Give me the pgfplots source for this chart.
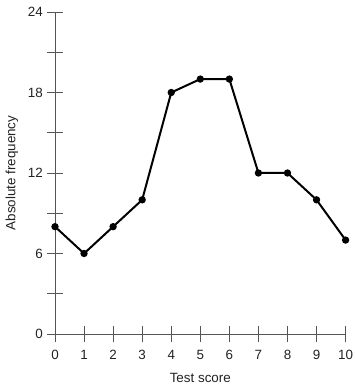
\documentclass[border=0pt]{standalone}
\usepackage{pgfplots}
\pgfplotsset{compat=1.18}
\usepackage{fontspec}
\setmainfont{Liberation Sans}
\definecolor{axgray}{HTML}{555555}
\definecolor{txt}{HTML}{222222}
\begin{document}
\fontsize{13.4bp}{16bp}\selectfont
\begin{tikzpicture}
\begin{axis}[
  at={(0,0)}, anchor=south west,
  scale only axis,
  width=290.6bp, height=322bp,
  xmin=0, xmax=10, ymin=0, ymax=24,
  axis lines=left,
  axis line style={-, color=axgray, line width=0.9bp},
  tick style={color=axgray, line width=0.9bp},
  tick align=center,
  major tick length=15bp,
  xtick={0,1,...,10},
  ytick={0,3,...,24},
  yticklabels={0,,6,,12,,18,,24},
  /pgf/number format/assume math mode=true,
  ticklabel style={font=\fontsize{13.4bp}{16bp}\selectfont, text=txt},
  xticklabel style={yshift=-4bp},
  label style={font=\fontsize{13.4bp}{16bp}\selectfont, text=txt},
  xlabel={Test score},
  ylabel={Absolute frequency},
  xlabel style={at={(axis description cs:0.5,-0.1366)}, anchor=center},
  ylabel style={at={(axis description cs:-0.148,0.5)}, anchor=center, rotate=0},
  clip=false,
]
\addplot[black, line width=2bp, mark=*, mark size=2.6bp] coordinates {
(0,8) (1,6) (2,8) (3,10) (4,18) (5,19) (6,19) (7,12) (8,12) (9,10) (10,7)
};
\end{axis}
\pgfresetboundingbox
\path[use as bounding box] (-55bp,-53bp) rectangle (301bp,334bp);
\end{tikzpicture}
\end{document}
